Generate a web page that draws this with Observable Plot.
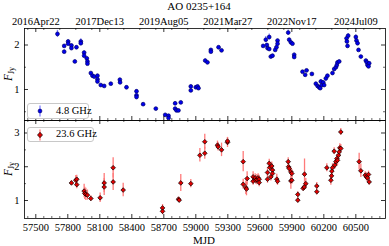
<!DOCTYPE html>
<html><head><meta charset="utf-8">
<script src="https://cdn.jsdelivr.net/npm/d3@7"></script>
<script src="https://cdn.jsdelivr.net/npm/@observablehq/plot@0.6"></script>
<style>
body{margin:0;background:#fff;}
#root{position:relative;width:389px;height:246px;font-family:"Liberation Serif",serif;overflow:hidden;color:#000}
.lbl{position:absolute;white-space:nowrap;line-height:1}
.leg{position:absolute;border:1px solid #c8c8c8;border-radius:3px;background:#fff;box-sizing:border-box}
.leg span{white-space:nowrap}
</style></head><body><div id="root"></div>
<script>
// ---------- data ----------
const title = "AO 0235+164";
const xLabel = "MJD";
const band1 = "4.8 GHz";
const band2 = "23.6 GHz";

const mjd48 = [57703,57766,57766,57803,57803,57834,57834,57866,57881,57922,57922,57953,57953,57978,57984,57984,58016,58031,58047,58078,58078,58078,58109,58141,58203,58288,58290,58350,58444,58444,58444,58506,58625,58713,58744,58744,58806,58806,58819,58837,58859,58953,58953,59000,59016,59025,59088,59109,59141,59141,59213,59241,59631,59656,59666,59672,59688,59688,59703,59719,59744,59756,59766,59766,59866,59875,59891,59906,59922,59922,60000,60025,60038,60088,60125,60141,60156,60166,60172,60181,60194,60203,60219,60234,60281,60297,60313,60322,60328,60344,60413,60416,60422,60428,60500,60506,60516,60525,60547,60594,60603,60609,60625,60619];
const f48 = [2.25,1.98,1.85,2.08,2.03,1.99,1.93,1.63,1.95,2.08,2.04,1.83,1.76,1.70,1.63,1.58,1.37,1.31,1.29,1.31,1.23,1.18,1.10,1.08,1.13,1.22,1.16,1.05,0.96,0.87,0.83,0.67,0.57,0.43,0.41,0.36,0.69,0.57,0.53,0.53,0.71,1.07,0.98,1.05,1.07,1.03,1.65,1.61,1.89,1.85,1.95,1.88,1.98,2.12,2.00,1.93,2.18,1.91,1.74,1.76,1.89,1.95,2.10,2.03,2.28,2.12,2.06,2.03,1.78,1.73,1.40,1.33,1.43,1.35,1.13,1.08,1.05,1.03,1.18,1.10,1.16,1.10,1.25,1.31,1.37,1.46,1.50,1.55,1.61,1.63,2.15,2.08,1.98,2.21,2.18,2.10,2.04,1.89,1.74,1.65,1.61,1.55,1.59,1.52];
const e48 = [0.08,0.03,0.03,0.03,0.03,0.03,0.03,0.03,0.03,0.06,0.03,0.04,0.03,0.03,0.03,0.03,0.03,0.03,0.03,0.03,0.03,0.03,0.03,0.02,0.02,0.03,0.03,0.03,0.03,0.03,0.03,0.02,0.02,0.02,0.02,0.02,0.04,0.03,0.02,0.02,0.02,0.03,0.03,0.02,0.02,0.02,0.04,0.02,0.03,0.03,0.02,0.02,0.03,0.07,0.03,0.03,0.07,0.03,0.03,0.03,0.03,0.03,0.03,0.03,0.06,0.03,0.03,0.03,0.04,0.03,0.02,0.02,0.02,0.02,0.03,0.03,0.03,0.03,0.04,0.03,0.03,0.03,0.07,0.03,0.03,0.03,0.03,0.03,0.03,0.03,0.07,0.05,0.05,0.05,0.05,0.04,0.03,0.03,0.03,0.03,0.03,0.03,0.03,0.03];

const mjd236 = [57834,57875,57884,57884,57953,57959,57969,57984,58016,58103,58141,58141,58225,58225,58319,58688,58688,58838,58844,58859,58953,59038,59084,59084,59203,59209,59241,59297,59297,59444,59444,59469,59475,59481,59537,59537,59556,59563,59572,59584,59594,59594,59672,59672,59688,59694,59703,59712,59719,59719,59759,59766,59866,59869,59875,59891,59900,59891,59900,59956,59956,60006,60016,60019,60031,60134,60134,60228,60266,60272,60275,60281,60297,60303,60313,60322,60328,60338,60344,60350,60359,60359,60531,60547,60588,60600,60609,60619,60625];
const f236 = [1.52,1.60,1.63,1.47,1.28,1.21,1.18,1.16,1.06,1.08,1.52,1.40,1.97,1.55,1.31,0.78,0.68,1.04,1.01,1.52,1.50,2.34,2.74,2.40,2.64,2.59,2.50,2.72,2.76,2.15,1.48,1.38,1.34,1.65,1.70,1.57,1.67,1.60,1.62,1.67,1.63,1.53,1.83,1.63,2.10,1.98,1.70,2.02,1.90,1.80,1.63,1.57,2.15,2.00,1.95,1.85,1.80,1.58,1.60,1.18,1.01,1.36,1.40,1.78,1.50,1.43,1.26,1.97,1.60,1.73,1.87,1.97,2.46,2.05,2.15,2.24,2.19,2.34,2.44,2.56,2.54,3.03,2.15,1.88,1.75,1.70,1.67,1.77,1.55];
const e236 = [0.07,0.14,0.12,0.12,0.20,0.18,0.18,0.15,0.08,0.14,0.28,0.25,0.30,0.25,0.20,0.10,0.10,0.06,0.05,0.25,0.12,0.20,0.22,0.18,0.12,0.12,0.20,0.15,0.10,0.30,0.15,0.20,0.20,0.20,0.15,0.12,0.12,0.12,0.15,0.12,0.12,0.12,0.15,0.12,0.12,0.12,0.12,0.12,0.12,0.12,0.15,0.12,0.12,0.12,0.10,0.12,0.12,0.25,0.12,0.08,0.08,0.08,0.10,0.45,0.15,0.10,0.10,0.12,0.15,0.12,0.12,0.12,0.10,0.12,0.12,0.12,0.15,0.12,0.12,0.12,0.12,0.10,0.25,0.20,0.10,0.12,0.12,0.10,0.10];

const xTicks = [57500,57800,58100,58400,58700,59000,59300,59600,59900,60200,60500];
const topTicks = [57500,58100,58700,59300,59900,60500];
const topTickLabels = ["2016Apr22","2017Dec13","2019Aug05","2021Mar27","2022Nov17","2024Jul09"];
const yTicksTop = [1,2];
const yMinorTop = [0.5,1.5];
const yTicksBot = [1,2,3];
const yMinorBot = [1.5,2.5];

// ---------- layout ----------
const W = 389, ML = 24, MR = 4;
const xDomain = [57394, 60778];
const xMinor = d3.range(57425, 60776, 75).filter(v => !xTicks.includes(v));
const topMinor = d3.range(57425, 60776, 150).filter(v => !topTicks.includes(v));
const root = document.getElementById("root");
const font = '"Liberation Serif", serif';

const rows48 = mjd48.map((m,i)=>({mjd:m, f:f48[i], e:e48[i]}));
const rows236 = mjd236.map((m,i)=>({mjd:m, f:f236[i], e:e236[i]}));

function panel({data, yDomain, height, mt, mb, yMajor, yMinor, fill, stroke, errColor, symbol, r, bottomLabels}) {
  const ph = height - mt - mb, pw = W - ML - MR;
  const marks = [
    Plot.ruleX(data, {x:"mjd", y1:d=>d.f-d.e, y2:d=>d.f+d.e, stroke:errColor, strokeWidth:1.3}),
    Plot.dot(data, {x:"mjd", y:"f", r, symbol, fill, stroke, strokeWidth:0.7}),
    Plot.ruleX(xTicks, {insetTop: ph-4, stroke:"#000", strokeWidth:0.8}),
    Plot.ruleX(xMinor, {insetTop: ph-2, stroke:"#000", strokeWidth:0.6}),
    Plot.ruleX(topTicks, {insetBottom: ph-4, stroke:"#000", strokeWidth:0.8}),
    Plot.ruleX(topMinor, {insetBottom: ph-2, stroke:"#000", strokeWidth:0.6}),
    Plot.ruleY(yMajor, {insetRight: pw-4, stroke:"#000", strokeWidth:0.8}),
    Plot.ruleY(yMajor, {insetLeft: pw-4, stroke:"#000", strokeWidth:0.8}),
    Plot.ruleY(yMinor, {insetRight: pw-2, stroke:"#000", strokeWidth:0.6}),
    Plot.ruleY(yMinor, {insetLeft: pw-2, stroke:"#000", strokeWidth:0.6}),
    Plot.axisY(yMajor, {anchor:"left", tickSize:0, tickPadding:5, label:null, tickFormat:d=>String(d), fontSize:10.5}),
    Plot.frame({stroke:"#000", strokeWidth:0.8})
  ];
  if (bottomLabels) marks.push(Plot.axisX(xTicks, {anchor:"bottom", tickSize:0, tickPadding:5, label:null, tickFormat:d=>String(d), fontSize:10.5}));
  else marks.push(Plot.axisX(topTicks, {anchor:"top", tickSize:0, tickPadding:4, label:null, tickFormat:d=>topTickLabels[topTicks.indexOf(d)], fontSize:10.5}));
  return Plot.plot({
    width: W, height, marginLeft: ML, marginRight: MR, marginTop: mt, marginBottom: mb,
    style: {fontFamily: font, fontSize: "10.5px", color:"#000", background:"transparent"},
    x: {domain: xDomain},
    y: {domain: yDomain},
    marks
  });
}

const topPlot = panel({data: rows48, yDomain:[0.303, 2.371], height:121, mt:28, mb:1,
  yMajor:yTicksTop, yMinor:yMinorTop, fill:"#0000ee", stroke:"#00006a", errColor:"#7f7fff", symbol:"circle", r:1.9, bottomLabels:false});
topPlot.style.position="absolute"; topPlot.style.left="0px"; topPlot.style.top="0px";
root.appendChild(topPlot);

const botPlot = panel({data: rows236, yDomain:[0.467, 3.37], height:128, mt:2, mb:28,
  yMajor:yTicksBot, yMinor:yMinorBot, fill:"#e00000", stroke:"#000", errColor:"#ff7a7a", symbol:"diamond2", r:2.1, bottomLabels:true});
botPlot.style.position="absolute"; botPlot.style.left="0px"; botPlot.style.top="118px";
root.appendChild(botPlot);

function label(html, x, y, opts={}) {
  const d = document.createElement("div");
  d.className = "lbl";
  d.innerHTML = html;
  d.style.left = x + "px"; d.style.top = y + "px";
  d.style.fontSize = (opts.size || 10.5) + "px";
  if (opts.transform) d.style.transform = opts.transform;
  root.appendChild(d);
  return d;
}
label(title, 199, 1, {size:11, transform:"translateX(-50%)"});
label(xLabel, 204, 235, {size:11, transform:"translateX(-50%)"});
const yl = '<i>F</i><sub style="font-size:8px;vertical-align:-2px">Jy</sub>';
label(yl, 9, 74, {size:11.5, transform:"translate(-50%,-50%) rotate(-90deg)"});
label(yl, 9, 169, {size:11.5, transform:"translate(-50%,-50%) rotate(-90deg)"});

function legend(x, y, w, h, text, fill, stroke, err, diamond) {
  const d = document.createElement("div");
  d.className = "leg";
  d.style.left = x+"px"; d.style.top = y+"px"; d.style.width = w+"px"; d.style.height = h+"px";
  const m = diamond
    ? `<polygon points="6,4.3 8.5,7 6,9.7 3.5,7" fill="${fill}" stroke="${stroke}" stroke-width="0.7"/>`
    : `<circle cx="6" cy="7" r="1.9" fill="${fill}" stroke="${stroke}" stroke-width="0.7"/>`;
  d.innerHTML = `<svg width="14" height="14" style="position:absolute;left:6px;top:${(h-2-14)/2}px"><line x1="6" x2="6" y1="1.5" y2="12.5" stroke="${err}" stroke-width="1.3"/>${m}</svg>`
    + `<span style="position:absolute;left:28px;top:${(h-2-10.5)/2}px;font-size:10.5px;line-height:1">${text}</span>`;
  root.appendChild(d);
}
legend(27, 103, 62, 16, band1, "#0000ee", "#00006a", "#7f7fff", false);
legend(27, 127, 67, 15, band2, "#e00000", "#000", "#ff7a7a", true);
</script>
</body></html>
